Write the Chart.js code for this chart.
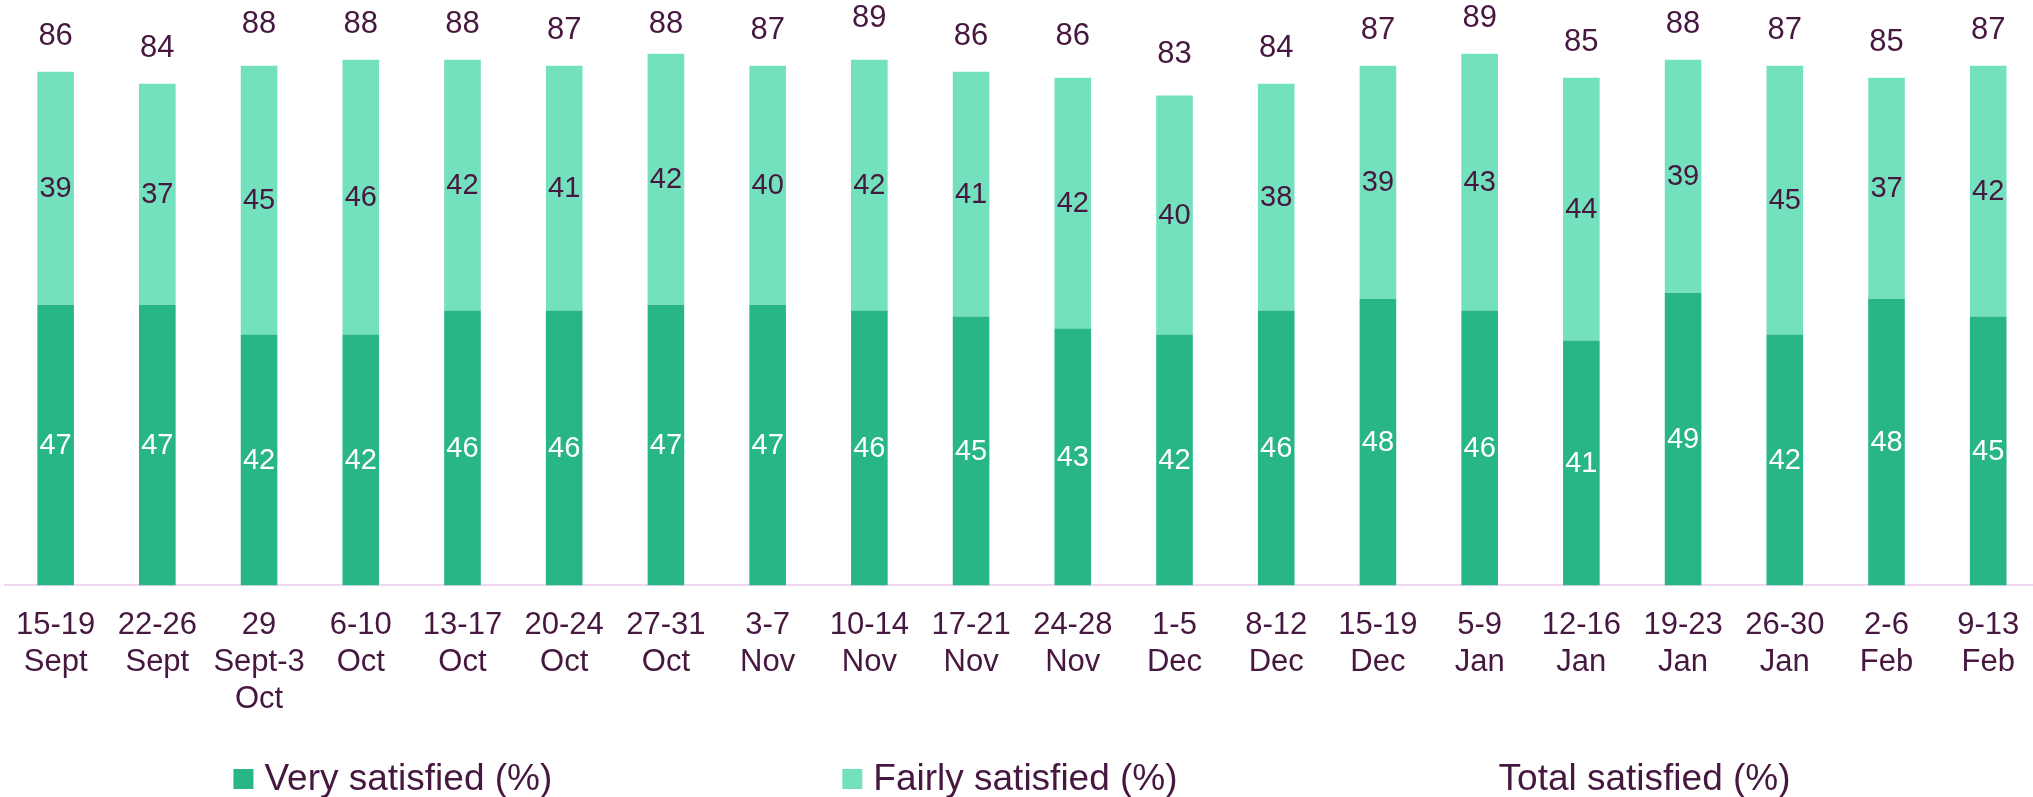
<!DOCTYPE html>
<html>
<head>
<meta charset="utf-8">
<script src="https://cdn.jsdelivr.net/npm/chart.js@4/dist/chart.umd.min.js"></script>
<style>
  html, body { margin: 0; padding: 0; background: #fff; overflow: hidden; }
  #wrap { position: relative; width: 2045px; height: 797px; margin-left: -5px; }
</style>
</head>
<body>
<div id="wrap"><canvas id="chart"></canvas></div>
<script>
  // week labels (multi-line ticks)
  const weeks = [
    ['15-19', 'Sept'], ['22-26', 'Sept'], ['29', 'Sept-3', 'Oct'], ['6-10', 'Oct'],
    ['13-17', 'Oct'], ['20-24', 'Oct'], ['27-31', 'Oct'], ['3-7', 'Nov'],
    ['10-14', 'Nov'], ['17-21', 'Nov'], ['24-28', 'Nov'], ['1-5', 'Dec'],
    ['8-12', 'Dec'], ['15-19', 'Dec'], ['5-9', 'Jan'], ['12-16', 'Jan'],
    ['19-23', 'Jan'], ['26-30', 'Jan'], ['2-6', 'Feb'], ['9-13', 'Feb']
  ]

  const verySatisfied   = [47, 47, 42, 42, 46, 46, 47, 47, 46, 45, 43, 42, 46, 48, 46, 41, 49, 42, 48, 45]
  const fairlySatisfied = [39, 37, 45, 46, 42, 41, 42, 40, 42, 41, 42, 40, 38, 39, 43, 44, 39, 45, 37, 42]
  const totalSatisfied  = [86, 84, 88, 88, 88, 87, 88, 87, 89, 86, 86, 83, 84, 87, 89, 85, 88, 87, 85, 87]

  const seriesNames = ['Very satisfied (%)', 'Fairly satisfied (%)', 'Total satisfied (%)']

  const txtColor = '#46173f'
  const font = 'Liberation Sans, Arial, sans-serif'

  // numbers on the bars + total above
  const barLabels = {
    id: 'barLabels',
    afterDatasetsDraw(chart) {
      const ctx = chart.ctx
      const y = chart.scales.y
      ctx.save()
      ctx.textAlign = 'center'
      ctx.textBaseline = 'middle'
      ;[0, 1].forEach(di => {
        const meta = chart.getDatasetMeta(di)
        ctx.fillStyle = di === 0 ? '#ffffff' : txtColor
        ctx.font = '29px ' + font
        meta.data.forEach((bar, i) => {
          const mid = (bar.y + bar.base) / 2
          ctx.fillText(chart.data.datasets[di].data[i], bar.x, mid + 1)
        })
      })
      const tmeta = chart.getDatasetMeta(2)
      ctx.fillStyle = txtColor
      ctx.font = '31px ' + font
      tmeta.data.forEach((pt, i) => {
        const v = totalSatisfied[i]
        ctx.fillText(v, pt.x, y.getPixelForValue(v) - 35)
      })
      ctx.restore()
    }
  }

  // legend drawn by hand so the item spacing matches
  const wideLegend = {
    id: 'wideLegend',
    afterDraw(chart) {
      const ctx = chart.ctx
      ctx.save()
      ctx.font = '37px ' + font
      ctx.textBaseline = 'middle'
      const box = 20, gap = 11, spacing = 290
      const items = chart.data.datasets.map(ds => ({ text: ds.label, color: ds.legendColor }))
      const widths = items.map(it => box + gap + ctx.measureText(it.text).width)
      const total = widths.reduce((a, b) => a + b, 0) + spacing * (items.length - 1)
      let x = 1017 - total / 2
      const cy = 779
      items.forEach((it, i) => {
        if (it.color) {
          ctx.fillStyle = it.color
          ctx.fillRect(x, cy - box / 2, box, box)
        }
        ctx.fillStyle = txtColor
        ctx.fillText(it.text, x + box + gap, cy + 1)
        x += widths[i] + spacing
      })
      ctx.restore()
    }
  }

  const chart = new Chart(document.getElementById('chart'), {
    type: 'bar',
    data: {
      labels: weeks,
      datasets: [
        {
          label: seriesNames[0],
          data: verySatisfied,
          backgroundColor: '#28b686',
          legendColor: '#28b686',
          stack: 'sat'
        },
        {
          label: seriesNames[1],
          data: fairlySatisfied,
          backgroundColor: '#73e1be',
          legendColor: '#73e1be',
          stack: 'sat'
        },
        {
          type: 'line',
          label: seriesNames[2],
          data: totalSatisfied,
          showLine: false,
          pointRadius: 0,
          borderColor: 'rgba(0,0,0,0)',
          legendColor: null,
          stack: 'total'
        }
      ]
    },
    options: {
      responsive: true,
      maintainAspectRatio: false,
      animation: false,
      datasets: {
        bar: { categoryPercentage: 1, barPercentage: 0.36 }
      },
      layout: {
        padding: { left: 0, right: 0, top: 0, bottom: 58 }
      },
      plugins: {
        legend: { display: false },
        tooltip: { enabled: false }
      },
      scales: {
        x: {
          stacked: true,
          grid: { display: false, drawTicks: false },
          border: { color: '#efd7ef', width: 2 },
          ticks: {
            color: txtColor,
            font: { family: font, size: 31 },
            padding: 21,
            maxRotation: 0,
            autoSkip: false
          }
        },
        y: {
          stacked: true,
          display: false,
          min: 0,
          max: 98
        }
      }
    },
    plugins: [barLabels, wideLegend]
  })
</script>
</body>
</html>
